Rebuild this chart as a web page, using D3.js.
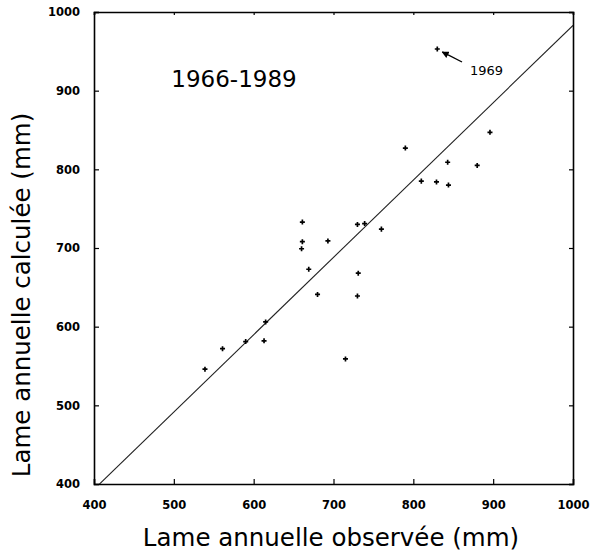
<!DOCTYPE html>
<html>
<head>
<meta charset="utf-8">
<script src="https://cdn.jsdelivr.net/npm/d3@7"></script>
<style>
  body { margin: 0; background: #fff; }
  svg text { font-family: "DejaVu Sans", Arial, sans-serif; fill: #000; }
</style>
</head>
<body>
<div id="chart"></div>
<script>
'use strict';

// observed vs computed annual runoff (mm), 1966-1989
const observed = [539, 561, 590, 615, 613, 661, 661, 660, 693, 669, 680, 730, 739,
                  760, 731, 730, 790, 843, 880, 810, 829, 844, 896, 715, 830];
const computed = [546, 572, 581, 606, 582, 733, 708, 699, 709, 673, 641, 730, 731,
                  724, 668, 639, 827, 809, 805, 785, 784, 780, 847, 559, 953];
const tickValues = [400, 500, 600, 700, 800, 900, 1000];
const fitSlope = 0.983;

const width = 592, height = 552;
const plot = {left: 94, right: 573, top: 12, bottom: 484};

const svg = d3.select("#chart").append("svg")
  .attr("width", width)
  .attr("height", height);

const x = d3.scaleLinear().domain([400, 1000]).range([plot.left, plot.right]);
const y = d3.scaleLinear().domain([400, 1000]).range([plot.bottom, plot.top]);

// clip for the fitted line
svg.append("clipPath").attr("id", "plotclip")
  .append("rect")
  .attr("x", plot.left).attr("y", plot.top)
  .attr("width", plot.right - plot.left).attr("height", plot.bottom - plot.top);

// fitted line y = a*x
const lineX = [400, 1000];
svg.append("path")
  .attr("clip-path", "url(#plotclip)")
  .attr("d", d3.line()
    .x(d => x(d))
    .y(d => y(d * fitSlope))(lineX))
  .attr("fill", "none")
  .attr("stroke", "#222")
  .attr("stroke-width", 1.1);

// axes, ticks pointing inward
const xAxis = svg.append("g")
  .attr("transform", `translate(0,${plot.bottom})`)
  .call(d3.axisBottom(x).tickValues(tickValues).tickSize(-5).tickPadding(17).tickFormat(d3.format("d")));

const yAxis = svg.append("g")
  .attr("transform", `translate(${plot.left},0)`)
  .call(d3.axisLeft(y).tickValues(tickValues).tickSize(-5).tickPadding(14).tickFormat(d3.format("d")));

const xTop = svg.append("g")
  .attr("transform", `translate(0,${plot.top})`)
  .call(d3.axisTop(x).tickValues(tickValues).tickSize(-3).tickFormat(""));

const yRight = svg.append("g")
  .attr("transform", `translate(${plot.right},0)`)
  .call(d3.axisRight(y).tickValues(tickValues).tickSize(-4).tickFormat(""));

[xAxis, yAxis, xTop, yRight].forEach(function(g) {
  g.select(".domain").attr("stroke", "#000").attr("stroke-width", 1.6);
  g.selectAll(".tick line").attr("stroke", "#000").attr("stroke-width", 1.2);
  g.selectAll(".tick text")
    .attr("font-size", 11.5)
    .attr("font-weight", "bold")
    .attr("font-family", "'Liberation Sans', Arial, sans-serif");
});

// points drawn as small crosses
svg.append("g")
  .selectAll("path")
  .data(observed.map((d, i) => [d, computed[i]]))
  .enter().append("path")
  .attr("transform", d => `translate(${x(d[0])},${y(d[1])})`)
  .attr("d", d3.symbol().type(d3.symbolCross).size(14))
  .attr("fill", "#000");

// period label
svg.append("text")
  .attr("x", 234)
  .attr("y", 87)
  .attr("text-anchor", "middle")
  .attr("font-size", 23)
  .text("1966-1989");

// 1969 annotation
svg.append("defs").append("marker")
  .attr("id", "arrow")
  .attr("viewBox", "0 0 10 10")
  .attr("refX", 9).attr("refY", 5)
  .attr("markerWidth", 5).attr("markerHeight", 5)
  .attr("orient", "auto")
  .append("path")
  .attr("d", "M0,0 L10,5 L0,10 z")
  .attr("fill", "#000");

svg.append("line")
  .attr("x1", 462).attr("y1", 62)
  .attr("x2", x(830) + 5).attr("y2", y(953) + 3)
  .attr("stroke", "#000")
  .attr("stroke-width", 1.4)
  .attr("marker-end", "url(#arrow)");

svg.append("text")
  .attr("x", 470)
  .attr("y", 75)
  .attr("font-size", 13)
  .text("1969");

// axis titles
svg.append("text")
  .attr("x", 331)
  .attr("y", 546)
  .attr("text-anchor", "middle")
  .attr("font-size", 24.5)
  .text("Lame annuelle observée (mm)");

svg.append("text")
  .attr("transform", `translate(30,295) rotate(-90)`)
  .attr("text-anchor", "middle")
  .attr("font-size", 24.5)
  .text("Lame annuelle calculée (mm)");
</script>
</body>
</html>
